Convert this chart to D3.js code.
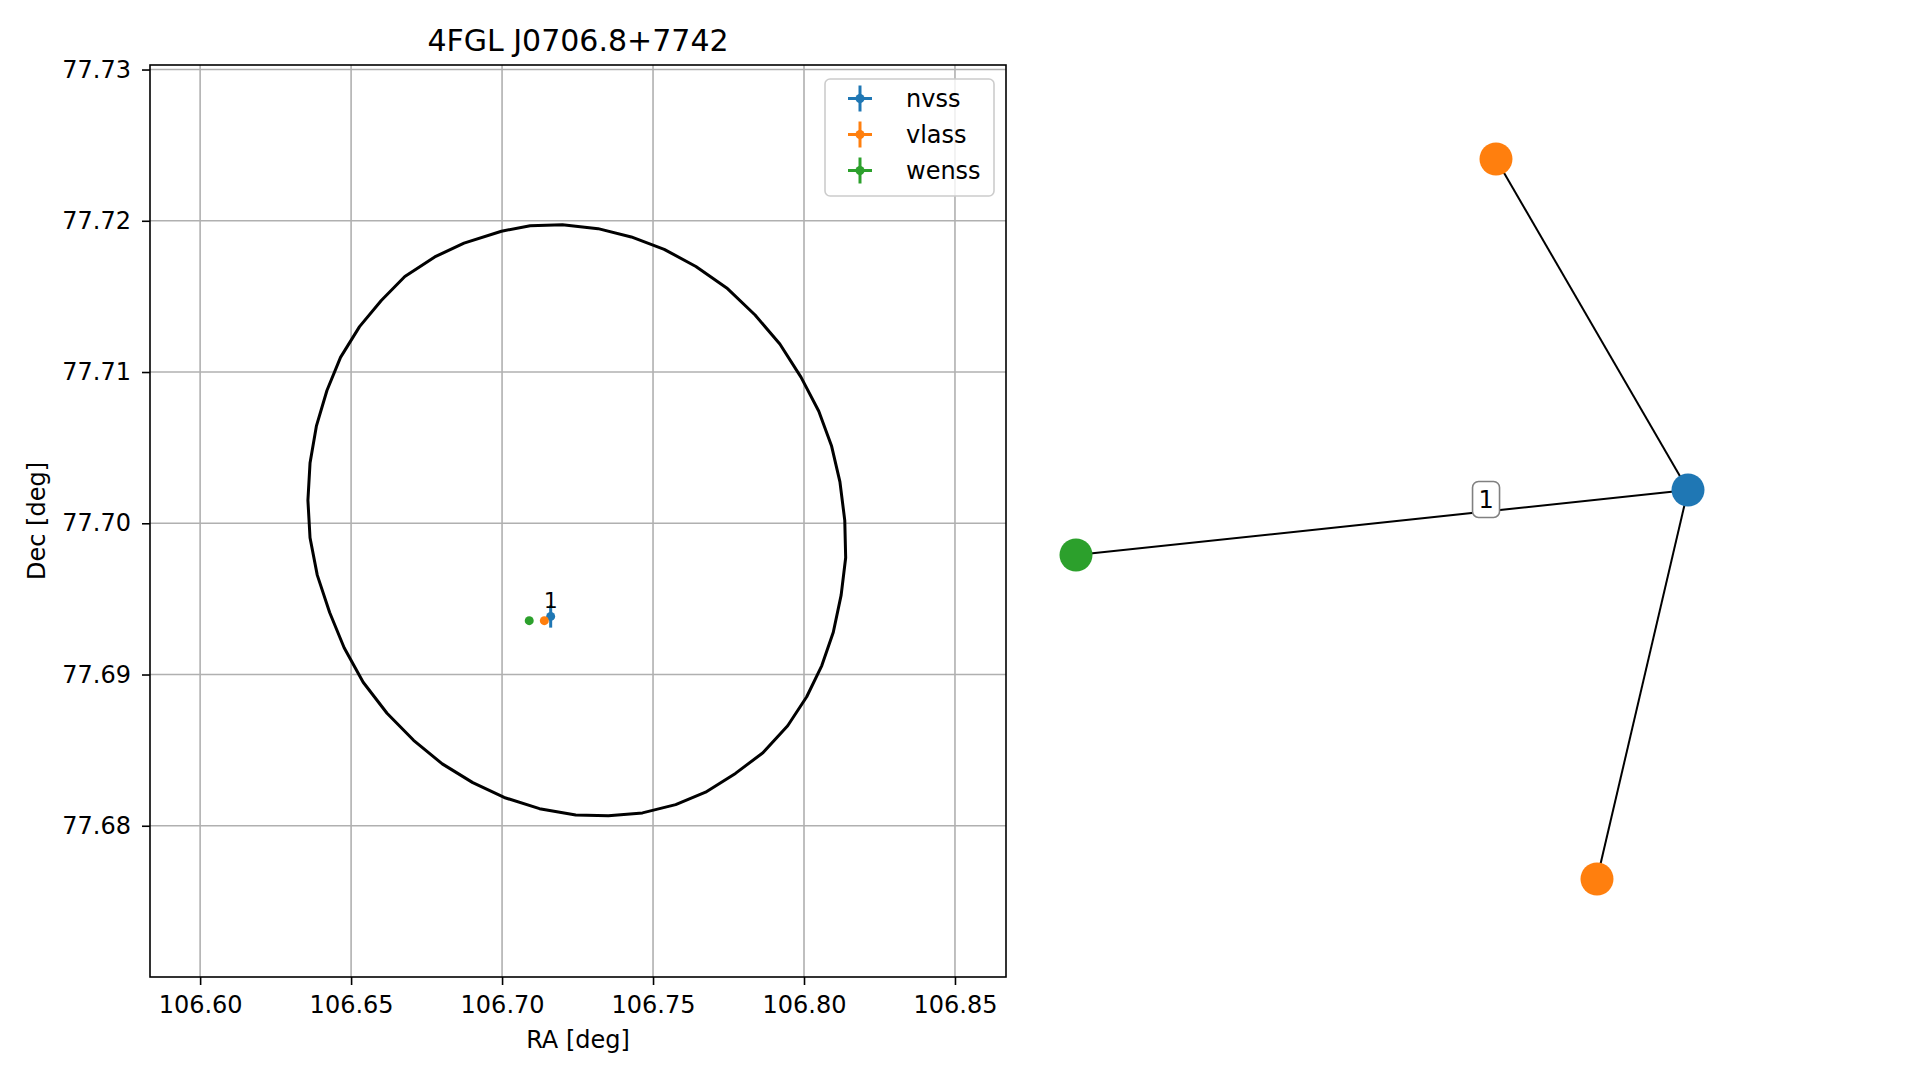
<!DOCTYPE html>
<html>
<head>
<meta charset="utf-8">
<script src="https://cdn.jsdelivr.net/npm/d3@7"></script>
<style>
  html, body { margin: 0; padding: 0; background: #ffffff; }
  svg { display: block; font-family: "DejaVu Sans", sans-serif; }
</style>
</head>
<body>
<svg id="chart" width="1919" height="1080"></svg>
<script>
// ---------------- data ----------------
const chartTitle = "4FGL J0706.8+7742";
const xTickValues = [106.60, 106.65, 106.70, 106.75, 106.80, 106.85];
const yTickValues = [77.68, 77.69, 77.70, 77.71, 77.72, 77.73];
const xDomain = [106.5834, 106.8669];
const yDomain = [77.67, 77.7303];

// catalogue sources (legend order)
const catalogNames = ["nvss", "vlass", "wenss"];
const catalogColors = ["#1f77b4", "#ff7f0e", "#2ca02c"];
const sourceRA = [106.7161, 106.7140, 106.7090];
const sourceDec = [77.69384, 77.69356, 77.69356];
const sourceRAErr = [0.0008, 0.0001, 0.0001];
const sourceDecErr = [0.00074, 0.00002, 0.00002];
const sourceLabel = ["1", "", ""];

// 4FGL error ellipse outline
const ellipseRA = [106.7200, 106.7318, 106.7428, 106.7537, 106.7642, 106.7744, 106.7838, 106.7920,
  106.7990, 106.8049, 106.8091, 106.8119, 106.8135, 106.8138, 106.8123, 106.8097, 106.8059,
  106.8009, 106.7946, 106.7864, 106.7773, 106.7674, 106.7575, 106.7465, 106.7352, 106.7244,
  106.7124, 106.7007, 106.6903, 106.6802, 106.6707, 106.6619, 106.6540, 106.6477, 106.6429,
  106.6388, 106.6364, 106.6357, 106.6364, 106.6385, 106.6420, 106.6465, 106.6528, 106.6600,
  106.6678, 106.6777, 106.6874, 106.6998, 106.7093];
const ellipseDec = [77.71973, 77.71948, 77.71893, 77.71811, 77.71698, 77.71556, 77.71377, 77.71185,
  77.70966, 77.70741, 77.70513, 77.70274, 77.70019, 77.69772, 77.69525, 77.69279, 77.69059,
  77.68853, 77.68661, 77.68483, 77.68346, 77.68222, 77.68140, 77.68085, 77.68066, 77.68071,
  77.68113, 77.68187, 77.68285, 77.68409, 77.68565, 77.68744, 77.68949, 77.69177, 77.69410,
  77.69657, 77.69904, 77.70151, 77.70398, 77.70642, 77.70878, 77.71097, 77.71300, 77.71473,
  77.71632, 77.71761, 77.71852, 77.71931, 77.71967];

// association graph (layout coordinates)
const nodeIds = ["nvss_1", "vlass_1", "vlass_2", "wenss_1"];
const nodeCatalog = ["nvss", "vlass", "vlass", "wenss"];
const nodeX = [1.0, 0.3725, 0.7026, -1.0];
const nodeY = [0.0806, 1.0, -1.0, -0.1];
const edgeSource = ["nvss_1", "nvss_1", "nvss_1"];
const edgeTarget = ["vlass_1", "vlass_2", "wenss_1"];
const edgeLabel = ["", "", "1"];

// ---------------- drawing ----------------
const svg = d3.select("#chart");
const box = { left: 150, right: 1006, top: 65, bottom: 977 };
const x = d3.scaleLinear().domain(xDomain).range([box.left, box.right]);
const y = d3.scaleLinear().domain(yDomain).range([box.bottom, box.top]);
const colorOf = d3.scaleOrdinal().domain(catalogNames).range(catalogColors);

const clipId = "clipL";
svg.append("defs").append("clipPath").attr("id", clipId)
  .append("rect").attr("x", box.left).attr("y", box.top)
  .attr("width", box.right - box.left).attr("height", box.bottom - box.top);

// grid
const grid = svg.append("g").attr("clip-path", `url(#${clipId})`);
grid.selectAll("line.gx").data(xTickValues).join("line")
  .attr("x1", d => x(d)).attr("x2", d => x(d))
  .attr("y1", box.top).attr("y2", box.bottom)
  .attr("stroke", "#b0b0b0").attr("stroke-width", 1.6);
grid.selectAll("line.gy").data(yTickValues).join("line")
  .attr("y1", d => y(d)).attr("y2", d => y(d))
  .attr("x1", box.left).attr("x2", box.right)
  .attr("stroke", "#b0b0b0").attr("stroke-width", 1.6);

// ellipse
const plot = svg.append("g").attr("clip-path", `url(#${clipId})`);
const ellipsePts = ellipseRA.map((r, i) => [r, ellipseDec[i]]);
plot.append("path")
  .attr("d", d3.line().x(d => x(d[0])).y(d => y(d[1])).curve(d3.curveLinearClosed)(ellipsePts))
  .attr("fill", "none").attr("stroke", "#000").attr("stroke-width", 3)
  .attr("stroke-linejoin", "round");

// sources with error bars
catalogNames.forEach((name, i) => {
  const g = plot.append("g");
  const cx = x(sourceRA[i]), cy = y(sourceDec[i]);
  g.append("line").attr("x1", x(sourceRA[i] - sourceRAErr[i])).attr("x2", x(sourceRA[i] + sourceRAErr[i]))
    .attr("y1", cy).attr("y2", cy).attr("stroke", catalogColors[i]).attr("stroke-width", 3);
  g.append("line").attr("y1", y(sourceDec[i] - sourceDecErr[i])).attr("y2", y(sourceDec[i] + sourceDecErr[i]))
    .attr("x1", cx).attr("x2", cx).attr("stroke", catalogColors[i]).attr("stroke-width", 3);
  g.append("circle").attr("cx", cx).attr("cy", cy).attr("r", 4.5).attr("fill", catalogColors[i]);
});
catalogNames.forEach((name, i) => {
  if (sourceLabel[i]) {
    plot.append("text").attr("x", x(sourceRA[i])).attr("y", y(sourceDec[i]) - 8)
      .attr("text-anchor", "middle").attr("font-size", 22).attr("fill", "#000")
      .text(sourceLabel[i]);
  }
});

// axes
const xAxis = d3.axisBottom(x).tickValues(xTickValues).tickFormat(d3.format(".2f"))
  .tickSizeInner(8).tickSizeOuter(0).tickPadding(11);
const yAxis = d3.axisLeft(y).tickValues(yTickValues).tickFormat(d3.format(".2f"))
  .tickSizeInner(8).tickSizeOuter(0).tickPadding(11);
const gx = svg.append("g").attr("transform", `translate(0,${box.bottom})`).call(xAxis);
const gy = svg.append("g").attr("transform", `translate(${box.left},0)`).call(yAxis);
[gx, gy].forEach(g => {
  g.select(".domain").remove();
  g.selectAll(".tick line").attr("stroke", "#000").attr("stroke-width", 1.6);
  g.selectAll(".tick text").attr("font-size", 24).attr("fill", "#000")
    .attr("font-family", "DejaVu Sans, sans-serif");
});
// spines
svg.append("rect").attr("x", box.left).attr("y", box.top)
  .attr("width", box.right - box.left).attr("height", box.bottom - box.top)
  .attr("fill", "none").attr("stroke", "#000").attr("stroke-width", 1.6);

// labels
svg.append("text").attr("x", (box.left + box.right) / 2).attr("y", 1048)
  .attr("text-anchor", "middle").attr("font-size", 24).text("RA [deg]");
svg.append("text").attr("transform", `translate(45,${(box.top + box.bottom) / 2}) rotate(-90)`)
  .attr("text-anchor", "middle").attr("font-size", 24).text("Dec [deg]");
svg.append("text").attr("x", (box.left + box.right) / 2).attr("y", 51)
  .attr("text-anchor", "middle").attr("font-size", 30).text(chartTitle);

// legend
const leg = svg.append("g").attr("transform", "translate(825,79)");
leg.append("rect").attr("width", 169).attr("height", 117).attr("rx", 5).attr("ry", 5)
  .attr("fill", "#fff").attr("fill-opacity", 0.8).attr("stroke", "#cccccc").attr("stroke-width", 1.6);
catalogNames.forEach((name, i) => {
  const ly = 19.5 + i * 36;
  const gi = leg.append("g").attr("transform", `translate(35,${ly})`);
  gi.append("line").attr("x1", -12).attr("x2", 12).attr("y1", 0).attr("y2", 0)
    .attr("stroke", catalogColors[i]).attr("stroke-width", 3);
  gi.append("line").attr("x1", 0).attr("x2", 0).attr("y1", -13).attr("y2", 13)
    .attr("stroke", catalogColors[i]).attr("stroke-width", 3);
  gi.append("circle").attr("r", 4.5).attr("fill", catalogColors[i]);
  leg.append("text").attr("x", 81).attr("y", ly).attr("dy", "0.35em")
    .attr("font-size", 24).attr("fill", "#000").text(name);
});

// ---------------- network panel ----------------
const nx = d3.scaleLinear().domain([-1.1, 1.1]).range([1045.4, 1718.6]);
const ny = d3.scaleLinear().domain([-1.1, 1.1]).range([915, 123]);
const nodeById = new Map(nodeIds.map((id, i) => [id, { x: nodeX[i], y: nodeY[i], cat: nodeCatalog[i] }]));
const net = svg.append("g");
edgeSource.forEach((s, i) => {
  const a = nodeById.get(s), b = nodeById.get(edgeTarget[i]);
  net.append("line").attr("x1", nx(a.x)).attr("y1", ny(a.y)).attr("x2", nx(b.x)).attr("y2", ny(b.y))
    .attr("stroke", "#000").attr("stroke-width", 2);
});
nodeIds.forEach((id, i) => {
  net.append("circle").attr("cx", nx(nodeX[i])).attr("cy", ny(nodeY[i])).attr("r", 16.5)
    .attr("fill", colorOf(nodeCatalog[i]));
});
edgeSource.forEach((s, i) => {
  if (!edgeLabel[i]) return;
  const a = nodeById.get(s), b = nodeById.get(edgeTarget[i]);
  const t = 0.33;
  const lx = nx(a.x + (b.x - a.x) * t), lyy = ny(a.y + (b.y - a.y) * t) - 12;
  const lg = net.append("g").attr("transform", `translate(${lx},${lyy})`);
  lg.append("rect").attr("x", -13.5).attr("y", -18).attr("width", 27).attr("height", 36)
    .attr("rx", 6).attr("ry", 6).attr("fill", "#fff").attr("stroke", "#808080").attr("stroke-width", 1.6);
  lg.append("text").attr("text-anchor", "middle").attr("dy", "0.36em")
    .attr("font-size", 24).attr("fill", "#000").text(edgeLabel[i]);
});
</script>
</body>
</html>
